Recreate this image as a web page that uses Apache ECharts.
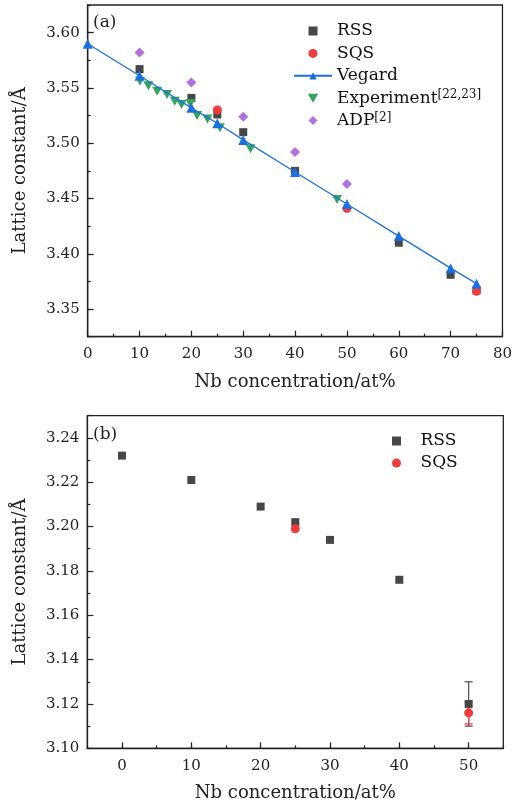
<!DOCTYPE html>
<html>
<head>
<meta charset="utf-8">
<script src="https://cdn.jsdelivr.net/npm/echarts@6/dist/echarts.min.js"></script>
<style>html,body{margin:0;padding:0;background:#fff}#c{width:515px;height:806px}</style>
</head>
<body>
<div id="c"></div>
<script>
// ---- Panel (a) data ----
const rssXa = [10, 20, 25, 30, 40, 60, 70, 75];
const rssYa = [3.567, 3.541, 3.526, 3.510, 3.475, 3.410, 3.381, 3.367];
const sqsXa = [25, 50, 75];
const sqsYa = [3.530, 3.441, 3.366];
const vegX = [0, 10, 20, 25, 30, 40, 50, 60, 70, 75];
const vegY = [3.590, 3.561, 3.532, 3.518, 3.503, 3.474, 3.445, 3.416, 3.387, 3.373];
const expX = [10.1, 11.7, 13.4, 15.3, 16.8, 18.1, 19.8, 21.1, 23.1, 25.5, 31.4, 48.1];
const expY = [3.556, 3.552, 3.547, 3.544, 3.538, 3.535, 3.536, 3.525, 3.522, 3.514, 3.495, 3.449];
const adpX = [10, 20, 30, 40, 50];
const adpY = [3.582, 3.555, 3.524, 3.492, 3.463];
const yTicksA = [3.35, 3.40, 3.45, 3.50, 3.55, 3.60];

// ---- Panel (b) data ----
const rssXb = [0, 10, 20, 25, 30, 40, 50];
const rssYb = [3.232, 3.221, 3.209, 3.202, 3.194, 3.176, 3.120];
const rssErrX = [50];
const rssErrLo = [3.110];
const rssErrHi = [3.130];
const sqsXb = [25, 50];
const sqsYb = [3.199, 3.116];
const sqsErrX = [50];
const sqsErrLo = [3.111];
const sqsErrHi = [3.121];
const xTicksB = [0, 10, 20, 30, 40, 50];

const FONT = 'DejaVu Serif';
const AX = '#222';
const C_RSS = '#474747', C_SQS = '#f03c3c', C_VEG = '#1c6fe0', C_EXP = '#33a35f', C_ADP = '#ad72e0';
const SQUARE = 'path://M0,0H10V10H0Z';
const DOWN = 'path://M0,0L10,0L5,8.7Z';
const DIAMOND = 'path://M5,0L10,5L5,10L0,5Z';

const zip = (xs, ys) => xs.map((x, i) => [x, ys[i]]);
const zip3 = (xs, a, b) => xs.map((x, i) => [x, a[i], b[i]]);

function errRender(color) {
  return function (params, api) {
    const x = api.value(0), lo = api.value(1), hi = api.value(2);
    const p1 = api.coord([x, hi]), p2 = api.coord([x, lo]);
    const w = 4;
    const st = { stroke: color, lineWidth: 1.3 };
    return { type: 'group', children: [
      { type: 'line', shape: { x1: p1[0], y1: p1[1], x2: p2[0], y2: p2[1] }, style: st },
      { type: 'line', shape: { x1: p1[0] - w, y1: p1[1], x2: p1[0] + w, y2: p1[1] }, style: st },
      { type: 'line', shape: { x1: p2[0] - w, y1: p2[1], x2: p2[0] + w, y2: p2[1] }, style: st }
    ]};
  };
}

const lbl = { fontFamily: FONT, fontSize: 15, color: AX };
const nameSt = { fontFamily: FONT, fontSize: 18, color: AX };
const axLine = { show: true, onZero: false, lineStyle: { color: AX, width: 1.3 } };

const legendText = {
  fontFamily: FONT, fontSize: 17, color: '#111', lineHeight: 18,
  rich: { s: { fontFamily: FONT, fontSize: 12, color: '#111', lineHeight: 10, verticalAlign: 'top' } }
};

const option = {
  animation: false,
  backgroundColor: '#fff',
  title: [
    { text: '(a)', left: 93, top: 14, padding: 0, textStyle: { fontFamily: FONT, fontSize: 17, fontWeight: 'normal', color: AX } },
    { text: '(b)', left: 93, top: 426, padding: 0, textStyle: { fontFamily: FONT, fontSize: 17, fontWeight: 'normal', color: AX } }
  ],
  legend: [
    {
      data: ['RSS', 'SQS', 'Vegard', 'Experiment', 'ADP'],
      orient: 'vertical', left: 293, top: 22, padding: 0,
      itemWidth: 38, itemHeight: 9, itemGap: 4.4,
      textStyle: legendText,
      formatter: n => n === 'Experiment' ? 'Experiment{s|[22,23]}' : (n === 'ADP' ? 'ADP{s|[2]}' : n)
    },
    {
      data: ['RSS ', 'SQS '],
      orient: 'vertical', left: 392, top: 432, padding: 0,
      itemWidth: 38, itemHeight: 9, itemGap: 4,
      textStyle: legendText
    }
  ],
  grid: [
    { left: 87.7, right: 11.7, top: 5, height: 331.7, show: true, borderColor: AX, borderWidth: 1.3 },
    { left: 87.3, right: 11.7, top: 415.7, bottom: 57.7, show: true, borderColor: AX, borderWidth: 1.3 }
  ],
  xAxis: [
    {
      gridIndex: 0, type: 'value', min: 0, max: 80, interval: 10,
      axisLine: axLine,
      axisTick: { inside: true, length: 6, lineStyle: { color: AX, width: 1.2 } },
      minorTick: { show: true, splitNumber: 2, length: 3, lineStyle: { color: AX, width: 1.2 } },
      axisLabel: Object.assign({ margin: 10 }, lbl),
      splitLine: { show: false },
      name: 'Nb concentration/at%', nameLocation: 'middle', nameGap: 37, nameTextStyle: nameSt
    },
    {
      gridIndex: 1, type: 'value', min: -5, max: 55,
      axisLine: axLine,
      axisTick: { inside: true, length: 6, customValues: xTicksB, lineStyle: { color: AX, width: 1.2 } },
      axisLabel: Object.assign({ margin: 10, customValues: xTicksB }, lbl),
      splitLine: { show: false },
      name: 'Nb concentration/at%', nameLocation: 'middle', nameGap: 36, nameTextStyle: nameSt
    },
    {
      gridIndex: 1, type: 'value', min: -5, max: 55, interval: 5, position: 'bottom',
      axisLine: { show: false, onZero: false },
      axisTick: { inside: true, length: 3, lineStyle: { color: AX, width: 1.2 } },
      axisLabel: { show: false },
      splitLine: { show: false }
    }
  ],
  yAxis: [
    {
      gridIndex: 0, type: 'value', min: 3.325, max: 3.625, position: 'left',
      axisLine: axLine,
      axisTick: { inside: true, length: 6, customValues: yTicksA, lineStyle: { color: AX, width: 1.2 } },
      axisLabel: Object.assign({ margin: 8, customValues: yTicksA, formatter: v => v.toFixed(2) }, lbl),
      splitLine: { show: false },
      name: 'Lattice constant/Å', nameLocation: 'middle', nameGap: 58, nameTextStyle: nameSt
    },
    {
      gridIndex: 0, type: 'value', min: 3.325, max: 3.625, interval: 0.025, position: 'left',
      axisLine: { show: false, onZero: false },
      axisTick: { inside: true, length: 3, lineStyle: { color: AX, width: 1.2 } },
      axisLabel: { show: false },
      splitLine: { show: false }
    },
    {
      gridIndex: 1, type: 'value', min: 3.10, max: 3.25, interval: 0.02, position: 'left',
      axisLine: axLine,
      axisTick: { inside: true, length: 6, lineStyle: { color: AX, width: 1.2 } },
      minorTick: { show: true, splitNumber: 2, length: 3, lineStyle: { color: AX, width: 1.2 } },
      axisLabel: Object.assign({ margin: 8, showMaxLabel: false, formatter: v => v.toFixed(2) }, lbl),
      splitLine: { show: false },
      name: 'Lattice constant/Å', nameLocation: 'middle', nameGap: 58, nameTextStyle: nameSt
    }
  ],
  series: [
    { name: 'RSS', type: 'scatter', xAxisIndex: 0, yAxisIndex: 0, data: zip(rssXa, rssYa),
      symbol: SQUARE, symbolSize: 8, itemStyle: { color: C_RSS, opacity: 1 } },
    { name: 'SQS', type: 'scatter', xAxisIndex: 0, yAxisIndex: 0, data: zip(sqsXa, sqsYa),
      symbol: 'circle', symbolSize: 9, itemStyle: { color: C_SQS, opacity: 1 } },
    { name: 'Vegard', type: 'line', xAxisIndex: 0, yAxisIndex: 0, data: zip(vegX, vegY),
      symbol: 'triangle', symbolSize: 10, showAllSymbol: true,
      lineStyle: { color: C_VEG, width: 1.3 }, itemStyle: { color: C_VEG, opacity: 1 } },
    { name: 'Experiment', type: 'scatter', xAxisIndex: 0, yAxisIndex: 0, data: zip(expX, expY),
      symbol: DOWN, symbolSize: [10, 9], itemStyle: { color: C_EXP, opacity: 1 } },
    { name: 'ADP', type: 'scatter', xAxisIndex: 0, yAxisIndex: 0, data: zip(adpX, adpY),
      symbol: DIAMOND, symbolSize: 10, itemStyle: { color: C_ADP, opacity: 1 } },

    { name: 'RSS ', type: 'scatter', xAxisIndex: 1, yAxisIndex: 2, data: zip(rssXb, rssYb),
      symbol: SQUARE, symbolSize: 8, itemStyle: { color: C_RSS, opacity: 1 } },
    { name: 'rss-err', type: 'custom', xAxisIndex: 1, yAxisIndex: 2, data: zip3(rssErrX, rssErrLo, rssErrHi),
      encode: { x: 0, y: [1, 2] }, renderItem: errRender('#555') },
    { name: 'SQS ', type: 'scatter', xAxisIndex: 1, yAxisIndex: 2, data: zip(sqsXb, sqsYb),
      symbol: 'circle', symbolSize: 9, itemStyle: { color: C_SQS, opacity: 1 } },
    { name: 'sqs-err', type: 'custom', xAxisIndex: 1, yAxisIndex: 2, data: zip3(sqsErrX, sqsErrLo, sqsErrHi),
      encode: { x: 0, y: [1, 2] }, renderItem: errRender(C_SQS) }
  ]
};

const chart = echarts.init(document.getElementById('c'), null, { renderer: 'canvas' });
chart.setOption(option);
</script>
</body>
</html>
